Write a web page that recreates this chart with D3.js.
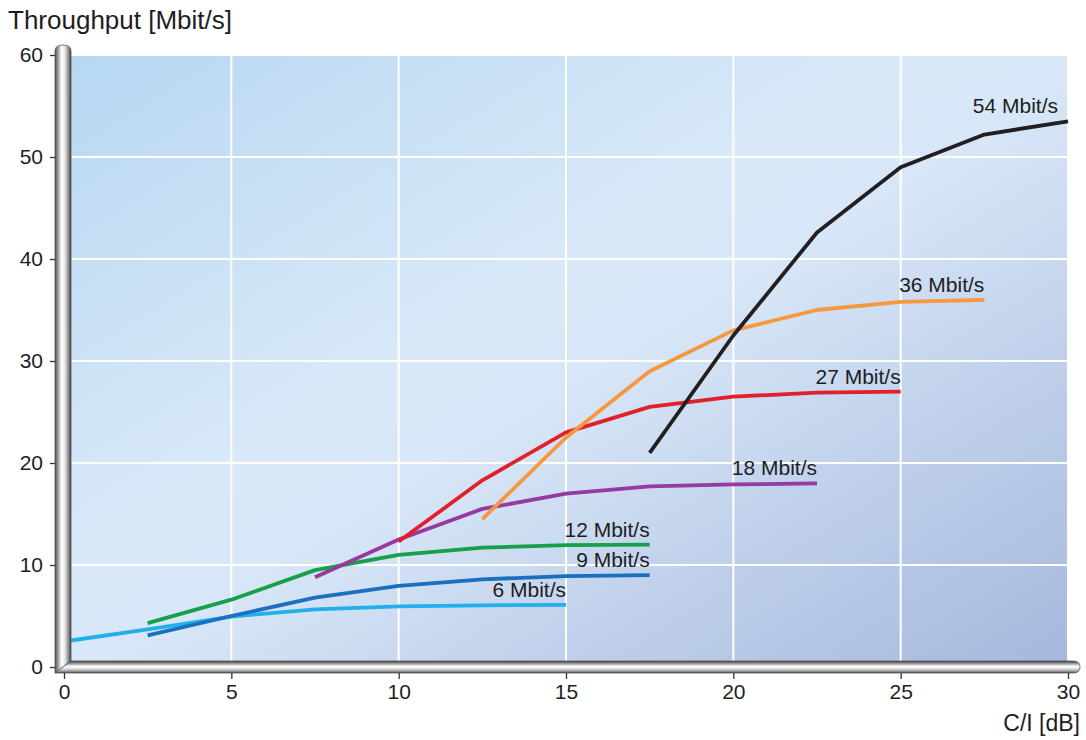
<!DOCTYPE html>
<html>
<head>
<meta charset="utf-8">
<script src="https://cdn.jsdelivr.net/npm/d3@7"></script>
<style>
  html, body { margin: 0; padding: 0; background: #ffffff; }
  svg { display: block; font-family: "Liberation Sans", Arial, Helvetica, sans-serif; }
</style>
</head>
<body>
<svg id="chart" width="1086" height="740"></svg>
<script>
// ---- data ----
const xTicks = [0, 5, 10, 15, 20, 25, 30];
const yTicks = [0, 10, 20, 30, 40, 50, 60];
const seriesNames = ["6 Mbit/s", "9 Mbit/s", "12 Mbit/s", "18 Mbit/s", "27 Mbit/s", "36 Mbit/s", "54 Mbit/s"];
const seriesColors = ["#22b0ec", "#1a6fc0", "#17a04b", "#953a9e", "#e0202a", "#f7983e", "#231f20"];
const ciValues6  = [0, 2.5, 5, 7.5, 10, 12.5, 15];
const thr6       = [2.5, 3.7, 4.95, 5.65, 5.95, 6.05, 6.1];
const ciValues9  = [2.5, 5, 7.5, 10, 12.5, 15, 17.5];
const thr9       = [3.1, 5.0, 6.8, 7.95, 8.6, 8.9, 9.0];
const ciValues12 = [2.5, 5, 7.5, 10, 12.5, 15, 17.5];
const thr12      = [4.3, 6.6, 9.5, 11.0, 11.7, 11.95, 12.0];
const ciValues18 = [7.5, 10, 12.5, 15, 17.5, 20, 22.5];
const thr18      = [8.8, 12.5, 15.5, 17.0, 17.7, 17.9, 18.0];
const ciValues27 = [10, 12.5, 15, 17.5, 20, 22.5, 25];
const thr27      = [12.3, 18.3, 23.0, 25.5, 26.5, 26.9, 27.0];
const ciValues36 = [12.5, 15, 17.5, 20, 22.5, 25, 27.5];
const thr36      = [14.5, 22.5, 29.0, 33.0, 35.0, 35.8, 36.0];
const ciValues54 = [17.5, 20, 22.5, 25, 27.5, 30];
const thr54      = [21.0, 32.5, 42.6, 49.0, 52.2, 53.5];
const seriesX = [ciValues6, ciValues9, ciValues12, ciValues18, ciValues27, ciValues36, ciValues54];
const seriesY = [thr6, thr9, thr12, thr18, thr27, thr36, thr54];
const yTitle = "Throughput [Mbit/s]";
const xTitle = "C/I [dB]";

// ---- scales ----
const svg = d3.select("#chart");
const x = d3.scaleLinear().domain([0, 30]).range([64, 1068]);
const y = d3.scaleLinear().domain([0, 60]).range([667, 55]);

const defs = svg.append("defs");
const bg = defs.append("linearGradient").attr("id", "bg")
  .attr("x1", "0").attr("y1", "0").attr("x2", "1").attr("y2", "1");
bg.append("stop").attr("offset", "0").attr("stop-color", "#b7d7f2");
bg.append("stop").attr("offset", "0.42").attr("stop-color", "#d9e9f8");
bg.append("stop").attr("offset", "0.52").attr("stop-color", "#d8e7f7");
bg.append("stop").attr("offset", "0.72").attr("stop-color", "#c2d2ec");
bg.append("stop").attr("offset", "1").attr("stop-color", "#a5b7dc");

const rodV = defs.append("linearGradient").attr("id", "rodV")
  .attr("x1", "0").attr("y1", "0").attr("x2", "1").attr("y2", "0");
[[0, "#4a4a4a"], [0.18, "#9a9a9a"], [0.42, "#ffffff"], [0.62, "#e6e6e6"], [0.85, "#8a8a8a"], [1, "#3c3c3c"]]
  .forEach(s => rodV.append("stop").attr("offset", s[0]).attr("stop-color", s[1]));
const rodH = defs.append("linearGradient").attr("id", "rodH")
  .attr("x1", "0").attr("y1", "0").attr("x2", "0").attr("y2", "1");
[[0, "#3c3c3c"], [0.18, "#8a8a8a"], [0.45, "#ffffff"], [0.62, "#e6e6e6"], [0.85, "#9a9a9a"], [1, "#4a4a4a"]]
  .forEach(s => rodH.append("stop").attr("offset", s[0]).attr("stop-color", s[1]));

// background
svg.append("rect")
  .attr("x", x(0)).attr("y", y(60))
  .attr("width", x(30) - x(0)).attr("height", y(0) - y(60))
  .attr("fill", "url(#bg)");

// grid
const grid = svg.append("g").attr("stroke", "#ffffff").attr("stroke-width", 2);
grid.selectAll("line.v").data(xTicks.filter(d => d > 0)).join("line")
  .attr("x1", d => x(d)).attr("x2", d => x(d)).attr("y1", y(60)).attr("y2", y(0));
grid.selectAll("line.h").data(yTicks.filter(d => d > 0)).join("line")
  .attr("x1", x(0)).attr("x2", x(30)).attr("y1", d => y(d)).attr("y2", d => y(d));

// series
const line = d3.line().x(d => x(d[0])).y(d => y(d[1]));
const series = seriesNames.map((name, i) => ({
  name, color: seriesColors[i],
  pts: seriesX[i].map((v, j) => [v, seriesY[i][j]])
}));
svg.append("g").selectAll("path").data(series).join("path")
  .attr("d", d => line(d.pts))
  .attr("fill", "none")
  .attr("stroke", d => d.color)
  .attr("stroke-width", 3.8)
  .attr("stroke-linejoin", "round");

// series labels at curve end
svg.append("g").selectAll("text").data(series).join("text")
  .attr("x", d => Math.min(x(d.pts[d.pts.length - 1][0]), 1058))
  .attr("y", d => y(d.pts[d.pts.length - 1][1]) - 8)
  .attr("text-anchor", "end")
  .attr("font-size", 21)
  .attr("fill", "#1e1e1e")
  .text(d => d.name);

// axis rods (drawn over the plot edges)
svg.append("path")
  .attr("d", "M55,673 L55,51 Q55,45 63,45 Q71,45 71,51 L71,661 Z")
  .attr("fill", "url(#rodV)").attr("stroke", "#555").attr("stroke-width", 0.8);
svg.append("path")
  .attr("d", "M55,673 L71,661 L1073,661 Q1080,661 1080,667 Q1080,673 1073,673 Z")
  .attr("fill", "url(#rodH)").attr("stroke", "#555").attr("stroke-width", 0.8);

// axes
const yAxis = svg.append("g").attr("transform", "translate(55,0)")
  .call(d3.axisLeft(y).tickValues(yTicks).tickSize(5).tickPadding(7));
const xAxis = svg.append("g").attr("transform", "translate(0,673)")
  .call(d3.axisBottom(x).tickValues(xTicks).tickSize(6).tickPadding(5));
[yAxis, xAxis].forEach(a => {
  a.select(".domain").remove();
  a.selectAll(".tick line").attr("stroke", "#333").attr("stroke-width", 1.3);
  a.selectAll(".tick text").attr("font-size", 21).attr("fill", "#1e1e1e")
    .attr("font-family", "'Liberation Sans', Arial, sans-serif");
});

// titles
svg.append("text").attr("x", 8).attr("y", 29)
  .attr("font-size", 26).attr("fill", "#1e1e1e").text(yTitle);
svg.append("text").attr("x", 1080).attr("y", 731)
  .attr("text-anchor", "end").attr("font-size", 23).attr("fill", "#1e1e1e").text(xTitle);
</script>
</body>
</html>
